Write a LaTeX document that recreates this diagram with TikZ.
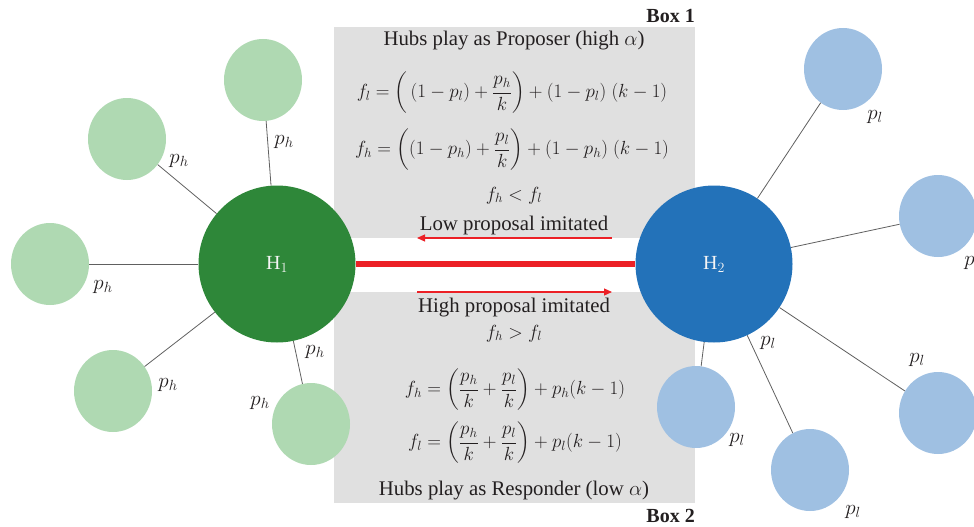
\RequirePackage{fix-cm}
\documentclass[tikz,border=0pt]{standalone}
\usepackage{amsmath}
\usepackage{fontspec}
\setmainfont{Liberation Serif}
\usepackage{tikz}
\usetikzlibrary{arrows.meta,shapes.geometric}
\definecolor{hubgreen}{RGB}{46,135,57}
\definecolor{leafgreen}{RGB}{175,217,178}
\definecolor{hubblue}{RGB}{35,114,185}
\definecolor{leafblue}{RGB}{159,192,226}
\definecolor{boxgray}{RGB}{224,224,224}
\definecolor{linkred}{RGB}{236,32,38}
\definecolor{inkdark}{RGB}{35,31,32}

\begin{document}
\begin{tikzpicture}[
  x=1pt,y=-1pt,
  font=\fontsize{20.8}{24}\selectfont,
  hub/.style={circle,minimum size=157pt,inner sep=0pt,text=white!92!gray,font=\fontsize{20}{24}\selectfont},
  leaf/.style={ellipse,minimum width=78pt,minimum height=82pt,inner sep=0pt},
  link/.style={draw=gray!75!black,line width=0.8pt},
  txt/.style={text=inkdark,inner sep=0pt},
  eqn/.style={text=inkdark,inner sep=0pt,font=\fontsize{19}{23}\selectfont},
  plabel/.style={text=inkdark,inner sep=0pt,font=\fontsize{21}{24}\selectfont},
  flow/.style={-{Triangle[length=8pt,width=7pt]},draw=linkred,line width=1.2pt}
]
  \useasboundingbox (0,0) rectangle (974,527);
  \fill[boxgray] (334,27) rectangle (695,238);
  \fill[boxgray] (334,292) rectangle (695,503);

  % box texts
  \node[txt,anchor=base east,font=\fontsize{20}{24}\selectfont\bfseries] (box1) at (695,23) {Box 1};
  \node[txt,anchor=base east,font=\fontsize{20}{24}\selectfont\bfseries] (box2) at (695,522) {Box 2};
  \node[txt,anchor=base] (prop) at (514,46) {Hubs play as Proposer (high $\alpha$)};
  \node[eqn] (eqfl) at (512,93) {$\displaystyle f_l=\left(\,(1-p_l)+\frac{p_h}{k}\right)+(1-p_l)\;(k-1)$};
  \node[eqn] (eqfh) at (512,150) {$\displaystyle f_h=\left((1-p_h)+\frac{p_l}{k}\right)+(1-p_h)\;(k-1)$};
  \node[eqn,anchor=base] (less) at (514,200) {$f_h<f_l$};
  \node[txt,anchor=base] (low) at (514,230) {Low proposal imitated};
  \node[txt,anchor=base] (high) at (514,312) {High proposal imitated};
  \node[eqn,anchor=base] (more) at (514,338) {$f_h>f_l$};
  \node[eqn] (rqfh) at (515,390) {$\displaystyle f_h=\left(\frac{p_h}{k}+\frac{p_l}{k}\right)+p_h(k-1)$};
  \node[eqn] (rqfl) at (515,443) {$\displaystyle f_l=\left(\frac{p_h}{k}+\frac{p_l}{k}\right)+p_l(k-1)$};
  \node[txt,anchor=base] (resp) at (514,495) {Hubs play as Responder (low $\alpha$)};

  % hubs and leaves
  \node[hub,fill=hubgreen] (h1) at (277,264) {H$_1$};
  \node[hub,fill=hubblue] (h2) at (714,264) {H$_2$};
  \node[leaf,fill=leafgreen] (g1) at (263,80) {};
  \node[leaf,fill=leafgreen] (g2) at (127,139) {};
  \node[leaf,fill=leafgreen] (g3) at (50,264) {};
  \node[leaf,fill=leafgreen] (g4) at (113,391) {};
  \node[leaf,fill=leafgreen] (g5) at (311,424) {};
  \node[leaf,fill=leafblue] (b1) at (843,69) {};
  \node[leaf,fill=leafblue] (b2) at (938,216) {};
  \node[leaf,fill=leafblue] (b3) at (696,407) {};
  \node[leaf,fill=leafblue] (b4) at (810,470) {};
  \node[leaf,fill=leafblue] (b5) at (938,413) {};

  \draw[link] (h1) -- (g1);
  \draw[link] (h1) -- (g2);
  \draw[link] (h1) -- (g3);
  \draw[link] (h1) -- (g4);
  \draw[link] (h1) -- (g5);
  \draw[link] (h2) -- (b1);
  \draw[link] (h2) -- (b2);
  \draw[link] (h2) -- (b3);
  \draw[link] (h2) -- (b4);
  \draw[link] (h2) -- (b5);
  \draw[draw=linkred,line width=6pt] (h1) -- (h2);

  \coordinate (lowtail) at (612,238);
  \coordinate (lowhead) at (417,238);
  \coordinate (hightail) at (417,292);
  \coordinate (highhead) at (612,292);
  \draw[flow] (lowtail) -- (lowhead);
  \draw[flow] (hightail) -- (highhead);

  % edge labels
  \node[plabel] (lg1) at (284,142) {$p_h$};
  \node[plabel] (lg2) at (179,161) {$p_h$};
  \node[plabel] (lg3) at (103,287) {$p_h$};
  \node[plabel] (lg4) at (168,385) {$p_h$};
  \node[plabel] (lg5) at (315,352) {$p_h$};
  \node[plabel] (lg6) at (260,403) {$p_h$};
  \node[plabel] (lb1) at (875,117) {$p_l$};
  \node[plabel] (lb2) at (972,263) {$p_l$};
  \node[plabel] (lb3) at (737,440) {$p_l$};
  \node[plabel] (lb4) at (853,512) {$p_l$};
  \node[plabel] (lb5) at (917,360) {$p_l$};
  \node[plabel] (lb6) at (768,343) {$p_l$};
\end{tikzpicture}
\end{document}
